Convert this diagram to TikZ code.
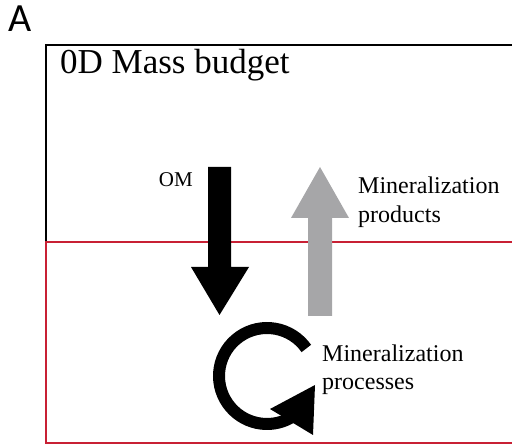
\documentclass[tikz,border=0pt]{standalone}
\usepackage{fontspec}
\setmainfont{Liberation Serif}
\newfontfamily\panelfont{Carlito}
\usetikzlibrary{calc}
\definecolor{boxred}{RGB}{200,32,52}
\definecolor{fluxgray}{RGB}{166,166,168}

\begin{document}
\begin{tikzpicture}[x=1pt, y=1pt,
    lbl/.style={anchor=base west, inner sep=0pt, align=left, font=\fontsize{24}{29}\selectfont}]
    \useasboundingbox (0,0) rectangle (512,445);
    % Panel letter and title
    \node[anchor=base west, inner sep=0pt, font=\panelfont\fontsize{40}{40}\selectfont] (panel) at (8,413) {A};
    \node[anchor=base west, inner sep=0pt, font=\fontsize{35}{35}\selectfont] (title) at (60,371) {0D Mass budget};
    % Upper (black) and lower (red) compartments
    \draw[line width=1.6pt] (512,400) -- (46,400) -- (46,203);
    \draw[boxred, line width=1.6pt] (512,203) -- (46,203) -- (46,2) -- (512,2);
    % OM flux down
    \fill (208,278) -- (231,278) -- (231,178) -- (249,178) -- (219.5,130) -- (191,178) -- (208,178) -- cycle;
    \node[anchor=base east, inner sep=0pt, font=\fontsize{21}{24}\selectfont] (om) at (193,258) {OM};
    % Products flux up
    \fill[fluxgray] (308,129) -- (332,129) -- (332,227) -- (349,227) -- (320,278) -- (291,227) -- (308,227) -- cycle;
    \node[lbl] (prod) at (358,222) {Mineralization\\products};
    % Cycling arrow
    \def\rr{48}
    \coordinate (cyc) at (267,69);
    \draw[line width=12pt] ($(cyc)+(35:\rr)$) arc[start angle=35, end angle=300, radius=\rr];
    \fill (270,36) -- (315,60) -- (313,10) -- cycle;
    \node[lbl] (proc) at (322,55) {Mineralization\\processes};
\end{tikzpicture}
\end{document}
